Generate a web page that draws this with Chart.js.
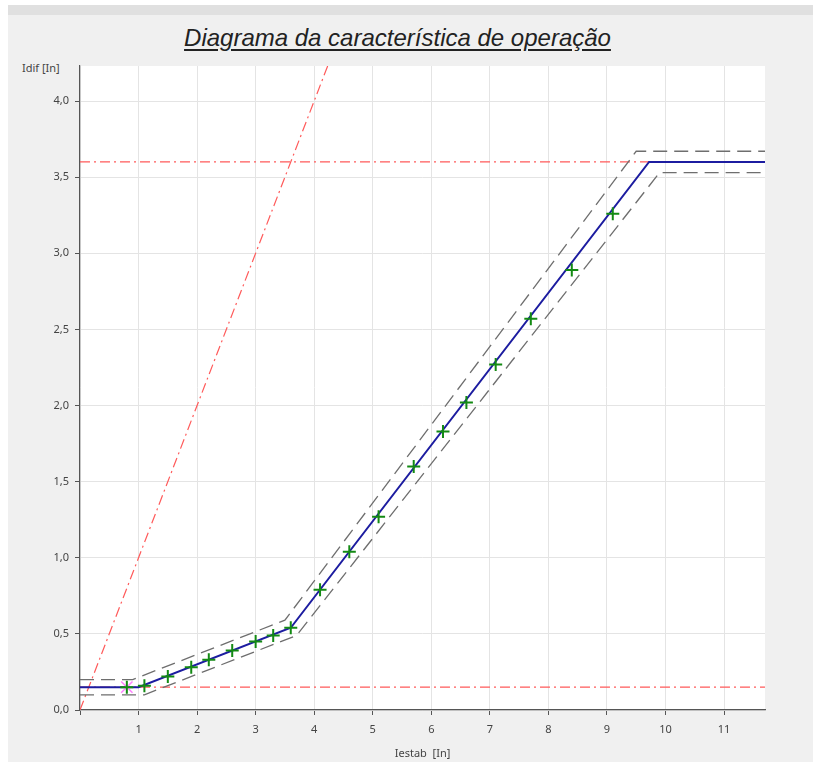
<!DOCTYPE html>
<html>
<head>
<meta charset="utf-8">
<script src="https://cdn.jsdelivr.net/npm/chart.js@4.4.1/dist/chart.umd.min.js"></script>
<style>
  body { margin: 0; background: #fff; }
  #panel { position: absolute; left: 8px; top: 5px; width: 805px; height: 757px; background: #f0f0f0; border-top: 10px solid #e0e0e0; box-sizing: border-box; }
  #wrap { position: absolute; left: 0; top: 0; width: 813px; height: 762px; }
  #title { position: absolute; left: 0; width: 795px; top: 24px; text-align: center; font: italic 24px "Liberation Sans", Arial, sans-serif; color: #222; text-decoration: underline; text-underline-offset: 3px; }
  #ylab { position: absolute; left: 22px; top: 60px; font: 11px "Noto Sans", sans-serif; color: #444; }
</style>
</head>
<body>
<div id="panel"></div>
<div id="title">Diagrama da característica de operação</div>
<div id="ylab">Idif [In]</div>
<div id="wrap"><canvas id="c" width="813" height="762"></canvas></div>
<script>
// operating characteristic (Iestab -> Idif)
var charX = [0, 1.0, 3.6, 9.72, 11.7];
var charY = [0.15, 0.15, 0.54, 3.6, 3.6];

// tolerance band
var upperX = [0, 0.9, 3.5, 9.5, 11.7];
var upperY = [0.2, 0.2, 0.59, 3.67, 3.67];
var lowerX = [0, 1.1, 3.7, 9.9, 11.7];
var lowerY = [0.1, 0.1, 0.49, 3.53, 3.53];

// test points
var testX = [0.8, 1.1, 1.5, 1.9, 2.2, 2.6, 3.0, 3.3, 3.6, 4.1, 4.6, 5.1, 5.7, 6.2, 6.6, 7.1, 7.7, 8.4, 9.1];
var testY = [0.15, 0.16, 0.22, 0.28, 0.33, 0.39, 0.45, 0.49, 0.54, 0.79, 1.04, 1.27, 1.60, 1.83, 2.02, 2.27, 2.57, 2.89, 3.26];
var tripX = [0.8];
var tripY = [0.15];

// limit lines
var idiffMinX = [0, 11.7];
var idiffMinY = [0.15, 0.15];
var idiffHighX = [0, 11.7];
var idiffHighY = [3.6, 3.6];
var diagX = [0, 4.5];
var diagY = [0, 4.5];

var xTicks = [1, 2, 3, 4, 5, 6, 7, 8, 9, 10, 11];

function pts(xs, ys) {
    return xs.map(function (x, i) { return { x: x, y: ys[i] }; });
}

var redDash = [10, 4, 2, 4];
var grayDash = [14, 7];

var bgPlugin = {
    id: 'bg',
    beforeDraw: function (chart) {
        var a = chart.chartArea, ctx = chart.ctx;
        ctx.save();
        ctx.fillStyle = '#ffffff';
        ctx.fillRect(a.left, a.top, a.right - a.left, a.bottom - a.top);
        ctx.restore();
    }
};

new Chart(document.getElementById('c').getContext('2d'), {
    type: 'scatter',
    data: {
        datasets: [
            { data: pts(testX, testY), pointStyle: 'cross', pointRadius: 6.5, borderColor: '#138a13', backgroundColor: '#138a13', pointBorderWidth: 2, order: 0 },
            { data: pts(tripX, tripY), pointStyle: 'crossRot', pointRadius: 8, borderColor: '#ff80ff', pointBorderWidth: 1.5, order: 0 },
            { data: pts(charX, charY), showLine: true, pointRadius: 0, borderColor: '#1c1ca0', borderWidth: 2, order: 1 },
            { data: pts(upperX, upperY), showLine: true, pointRadius: 0, borderColor: '#6e6e6e', borderWidth: 1.3, borderDash: grayDash, order: 2 },
            { data: pts(lowerX, lowerY), showLine: true, pointRadius: 0, borderColor: '#6e6e6e', borderWidth: 1.3, borderDash: grayDash, order: 2 },
            { data: pts(idiffMinX, idiffMinY), showLine: true, pointRadius: 0, borderColor: '#ff5a5a', borderWidth: 1.2, borderDash: redDash, order: 3 },
            { data: pts(idiffHighX, idiffHighY), showLine: true, pointRadius: 0, borderColor: '#ff5a5a', borderWidth: 1.2, borderDash: redDash, order: 3 },
            { data: pts(diagX, diagY), showLine: true, pointRadius: 0, borderColor: '#ff5a5a', borderWidth: 1.2, borderDash: redDash, order: 3 }
        ]
    },
    options: {
        responsive: false,
        animation: false,
        layout: { padding: { top: 66, right: 48, left: 0, bottom: 0 } },
        plugins: { legend: { display: false }, tooltip: { enabled: false } },
        scales: {
            x: {
                type: 'linear', min: 0, max: 11.7,
                afterFit: function (s) { s.height = 52; },
                afterBuildTicks: function (s) { s.ticks = [{ value: 0 }].concat(xTicks.map(function (v) { return { value: v }; })); },
                ticks: { includeBounds: false, padding: 8, color: '#444', font: { family: 'Noto Sans', size: 11 },
                    callback: function (v) { return v === 0 ? '' : String(v); } },
                grid: { color: '#e4e4e4', tickColor: '#555', tickLength: 5 },
                border: { color: '#555', width: 1.2 },
                title: { display: true, text: 'Iestab  [In]', color: '#444', font: { family: 'Noto Sans', size: 11 }, padding: { top: 2, bottom: 2 } }
            },
            y: {
                type: 'linear', min: 0, max: 4.23,
                afterFit: function (s) { s.width = 80; },
                ticks: { includeBounds: false, stepSize: 0.5, padding: 6, color: '#444', font: { family: 'Noto Sans', size: 11 },
                    callback: function (v) { return v.toFixed(1).replace('.', ','); } },
                grid: { color: '#e4e4e4', tickColor: '#555', tickLength: 5 },
                border: { color: '#555', width: 1.2 }
            }
        }
    },
    plugins: [bgPlugin]
});
</script>
</body>
</html>
